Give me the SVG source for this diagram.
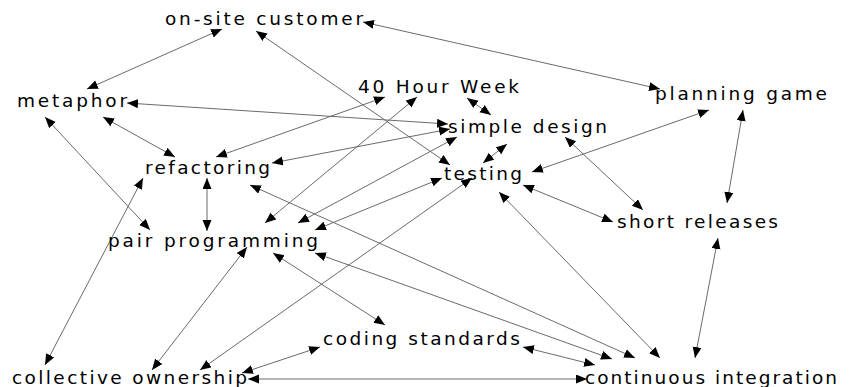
<svg xmlns="http://www.w3.org/2000/svg" width="851" height="387" viewBox="0 0 851 387">
  <style>
    .bg { fill: #ffffff; }
    .edge { stroke: #6a6a6a; stroke-width: 1; fill: none; marker-start: url(#tip); marker-end: url(#tip); }
    .label { font-family: "DejaVu Sans", "Liberation Sans", sans-serif; font-size: 18.5px; fill: #000000; }
  </style>
  <defs>
    <marker id="tip" markerUnits="userSpaceOnUse" markerWidth="12" markerHeight="10" refX="11" refY="4.5" orient="auto-start-reverse" viewBox="0 0 12 10">
      <path d="M0,0 L11,4.5 L0,9 Z" fill="#000000"/>
    </marker>
  </defs>
  <rect class="bg" x="0" y="0" width="851" height="387"/>

  <!-- practice relationships, all two-way -->
  <g id="connectors">
    <line class="edge" x1="222" y1="29" x2="87" y2="89"/>
    <line class="edge" x1="256" y1="31" x2="450" y2="165"/>
    <line class="edge" x1="363" y1="22" x2="660" y2="89"/>
    <line class="edge" x1="127" y1="103" x2="448" y2="124"/>
    <line class="edge" x1="103" y1="117" x2="175" y2="157"/>
    <line class="edge" x1="45" y1="117" x2="150" y2="230"/>
    <line class="edge" x1="216" y1="157" x2="385" y2="97"/>
    <line class="edge" x1="272" y1="163" x2="450" y2="129"/>
    <line class="edge" x1="207" y1="178" x2="207" y2="231"/>
    <line class="edge" x1="250" y1="185" x2="635" y2="358"/>
    <line class="edge" x1="143" y1="178" x2="45" y2="365"/>
    <line class="edge" x1="265" y1="223" x2="417" y2="97"/>
    <line class="edge" x1="298" y1="223" x2="457" y2="137"/>
    <line class="edge" x1="315" y1="230" x2="442" y2="178"/>
    <line class="edge" x1="247" y1="247" x2="152" y2="370"/>
    <line class="edge" x1="273" y1="253" x2="385" y2="325"/>
    <line class="edge" x1="315" y1="253" x2="612" y2="359"/>
    <line class="edge" x1="472" y1="178" x2="200" y2="370"/>
    <line class="edge" x1="499" y1="192" x2="660" y2="358"/>
    <line class="edge" x1="532" y1="172" x2="709" y2="110"/>
    <line class="edge" x1="523" y1="185" x2="613" y2="222"/>
    <line class="edge" x1="483" y1="163" x2="507" y2="144"/>
    <line class="edge" x1="467" y1="98" x2="491" y2="115"/>
    <line class="edge" x1="565" y1="137" x2="643" y2="210"/>
    <line class="edge" x1="743" y1="110" x2="727" y2="203"/>
    <line class="edge" x1="718" y1="238" x2="695" y2="358"/>
    <line class="edge" x1="320" y1="347" x2="242" y2="373"/>
    <line class="edge" x1="523" y1="347" x2="595" y2="365"/>
    <line class="edge" x1="248" y1="379" x2="587" y2="379"/>
  </g>

  <g id="on-site-customer"><text class="label" x="165" y="25" textLength="198" lengthAdjust="spacing">on-site customer</text></g>
  <g id="metaphor"><text class="label" x="17" y="107" textLength="110" lengthAdjust="spacing">metaphor</text></g>
  <g id="forty-hour-week"><text class="label" x="358" y="93" textLength="161" lengthAdjust="spacing">40 Hour Week</text></g>
  <g id="planning-game"><text class="label" x="655" y="100" textLength="172" lengthAdjust="spacing">planning game</text></g>
  <g id="simple-design"><text class="label" x="448" y="133" textLength="159" lengthAdjust="spacing">simple design</text></g>
  <g id="refactoring"><text class="label" x="145" y="174" textLength="125" lengthAdjust="spacing">refactoring</text></g>
  <g id="testing"><text class="label" x="444" y="180" textLength="78" lengthAdjust="spacing">testing</text></g>
  <g id="short-releases"><text class="label" x="617" y="228" textLength="161" lengthAdjust="spacing">short releases</text></g>
  <g id="pair-programming"><text class="label" x="108" y="247" textLength="210" lengthAdjust="spacing">pair programming</text></g>
  <g id="coding-standards"><text class="label" x="323" y="345" textLength="197" lengthAdjust="spacing">coding standards</text></g>
  <g id="collective-ownership"><text class="label" x="12" y="384" textLength="235" lengthAdjust="spacing">collective ownership</text></g>
  <g id="continuous-integration"><text class="label" x="585" y="384" textLength="252" lengthAdjust="spacing">continuous integration</text></g>
</svg>
